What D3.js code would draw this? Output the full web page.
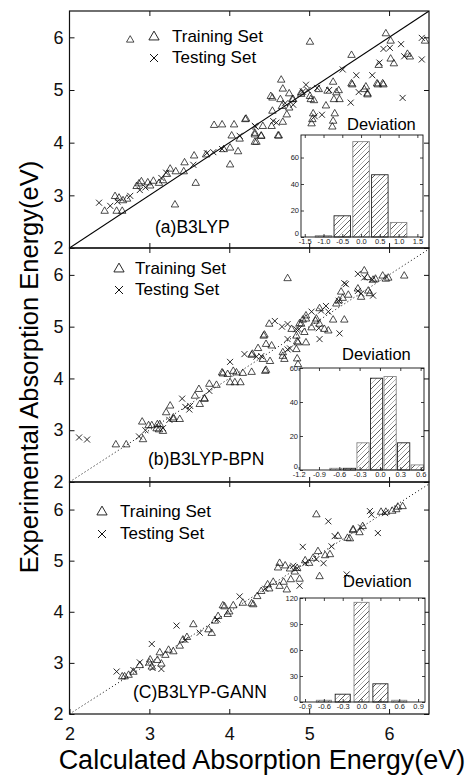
<!DOCTYPE html>
<html>
<head>
<meta charset="utf-8">
<script src="https://cdn.jsdelivr.net/npm/d3@7"></script>
<style>
  body { margin: 0; background: #fff; }
  svg text { font-family: "Liberation Sans", Arial, sans-serif; }
</style>
</head>
<body>
<div id="chart"></div>
<script>
// ---- data: [calculated, experimental] in eV ----
const trainA = [[2.44,2.70],[2.57,2.98],[2.59,2.70],[2.66,2.70],[2.67,2.90],[2.62,2.95],[2.84,3.17],[2.90,3.26],[2.87,3.22],
  [3.01,3.18],[3.12,3.23],[3.17,3.28],[3.26,3.50],[3.33,3.45],[3.22,3.40],[3.44,3.62],[3.43,3.45],[3.56,3.75],[3.58,3.23],
  [3.32,2.82],[3.71,3.77],[3.81,4.33],[3.91,4.34],[4.06,4.34],[4.20,4.44],[3.93,3.87],[4.01,3.90],[4.11,3.83],[4.01,3.58],
  [4.03,4.13],[4.13,4.07],[4.32,4.18],[4.34,4.01],[4.40,4.12],[2.76,5.95],[5.01,5.91],[5.96,6.07],[6.02,5.93],[6.02,5.59],
  [6.06,5.50],[6.23,5.68],[6.26,5.63],[6.45,5.93],[5.53,5.66],[5.87,5.47],[5.92,5.12],[5.85,5.12],[5.53,5.12],[5.71,5.06],
  [5.73,4.93],[4.65,5.19],[4.67,5.02],[4.75,4.93],[4.54,4.85],[4.64,4.82],[4.80,4.82],[4.90,4.95],[5.01,4.88],[5.02,4.82],
  [5.12,5.01],[5.06,4.80],[5.23,4.98],[5.30,5.15],[5.34,4.95],[5.37,4.99],[5.31,4.82],[5.38,4.82],[5.54,5.10],[5.69,5.01],
  [5.73,4.91],[5.86,5.10],[5.93,5.10],[5.21,4.70],[5.05,4.55],[5.04,4.44],[5.03,4.36],[5.32,4.55],[5.30,4.41],[5.29,4.30],
  [4.21,4.45],[4.32,4.15],[4.40,4.13],[4.62,4.13],[4.32,4.01],[4.53,4.31],[4.67,4.39],[4.72,4.53],[4.75,4.66],[4.66,4.69],
  [4.79,4.82],[4.52,4.88],[4.61,4.13],[4.42,4.31],[4.54,4.60],[4.90,4.92],[2.98,3.24],[3.05,3.27],[2.72,2.93]];
const testA = [[2.37,2.86],[2.51,2.80],[2.60,2.88],[2.76,2.99],[2.88,3.10],[2.95,3.15],[3.15,3.33],[3.21,3.43],[3.55,3.58],
  [3.72,3.80],[3.80,3.82],[3.91,3.88],[4.13,4.13],[6.41,5.99],[6.15,5.87],[5.93,5.78],[5.88,5.52],[6.19,5.64],[6.41,5.58],
  [5.42,5.39],[5.59,5.28],[5.79,5.28],[4.96,5.10],[4.98,5.00],[5.10,5.04],[5.25,5.00],[5.62,4.96],[6.17,4.85],[5.52,4.76],
  [5.07,4.50],[5.16,4.53],[4.55,4.41],[4.32,4.32],[4.59,4.38],[4.80,4.72],[4.33,4.30],[4.92,4.97],[4.70,4.75],[6.01,5.80]];

const trainB = [[2.58,2.72],[2.71,2.72],[2.91,3.16],[2.92,2.82],[2.99,3.09],[3.03,3.09],[3.09,3.03],[3.10,3.11],[3.13,3.11],
  [3.12,3.01],[3.17,2.98],[3.26,3.47],[3.21,3.34],[3.30,3.21],[3.30,3.24],[3.38,3.21],[3.57,3.66],[3.62,3.79],[3.63,3.50],
  [3.69,3.60],[3.75,3.89],[3.84,3.87],[3.91,4.11],[3.98,4.08],[4.05,4.14],[4.01,3.92],[4.07,3.92],[4.14,3.92],[4.17,4.10],
  [4.28,4.12],[4.28,4.45],[4.36,4.58],[4.42,4.37],[4.46,4.66],[4.44,4.84],[4.50,5.05],[4.53,4.63],[4.67,4.43],[4.69,4.37],
  [4.73,5.93],[4.78,4.95],[4.84,4.82],[4.86,4.69],[4.84,4.56],[4.85,4.38],[4.86,4.27],[4.94,4.89],[4.90,5.05],[4.96,5.15],
  [5.03,4.98],[4.96,4.69],[5.09,5.15],[5.13,5.05],[5.19,4.95],[5.24,4.92],[5.30,5.13],[5.44,5.13],[5.13,5.35],[5.42,5.55],
  [5.49,5.61],[5.40,5.67],[5.65,5.57],[5.69,6.08],[5.73,5.95],[5.83,5.92],[5.92,5.98],[5.96,5.92],[6.19,5.98],[5.74,5.69],
  [5.37,5.50],[5.34,5.44],[5.08,5.11],[4.96,5.21],[4.92,5.13],[4.88,5.06],[4.85,4.71],[4.67,4.50],[4.51,4.33],[4.46,4.16],
  [4.29,4.47],[4.09,4.11],[3.92,4.09],[5.99,5.94],[5.61,5.73],[5.76,5.64],[4.43,4.82],[3.69,3.61],[5.80,5.90],[4.45,4.14]];
const testB = [[2.12,2.86],[2.22,2.82],[2.87,2.88],[3.17,3.04],[3.41,3.61],[3.51,3.47],[3.50,3.40],[3.75,3.76],[4.01,4.32],
  [4.34,4.42],[4.57,5.11],[4.66,5.00],[4.73,4.76],[4.76,4.58],[5.15,5.31],[5.21,5.40],[5.24,5.29],[5.13,4.76],[5.38,4.87],
  [5.46,5.82],[5.37,5.50],[5.61,6.02],[5.61,5.69],[5.65,5.64],[5.80,5.60],[5.69,5.95],[5.79,5.91],[4.87,4.95],[4.19,4.47],
  [5.44,5.84],[5.03,5.29],[4.73,5.05],[4.84,4.95],[5.12,4.97],[4.73,4.56],[4.40,4.43],[3.25,3.20],[3.45,3.45],[2.95,3.00]];

const trainC = [[2.69,2.73],[2.66,2.73],[2.74,2.76],[2.80,2.82],[2.88,2.95],[3.01,3.06],[3.00,3.00],[3.13,3.20],[3.24,3.25],
  [3.03,2.92],[3.10,3.05],[3.15,2.98],[3.20,3.15],[3.30,3.22],[3.42,3.45],[3.38,3.33],[3.47,3.50],[3.55,3.75],[3.74,3.65],
  [3.78,3.58],[3.82,3.82],[3.86,3.91],[3.92,4.12],[3.94,4.10],[4.00,4.00],[4.05,4.12],[4.17,4.17],[4.28,4.16],[4.30,4.14],
  [4.40,4.40],[4.48,4.53],[4.55,4.58],[4.63,4.50],[4.72,4.43],[4.63,4.95],[4.61,4.86],[4.76,4.84],[4.88,4.64],[4.77,4.63],
  [4.85,4.85],[4.95,5.00],[5.00,4.95],[5.09,5.90],[5.13,4.69],[5.11,5.18],[5.26,5.12],[5.36,5.48],[5.48,5.44],[5.51,5.43],
  [5.55,5.61],[5.55,5.59],[5.63,5.55],[5.67,5.67],[5.90,5.95],[5.96,5.95],[6.04,5.97],[6.09,6.00],[6.11,6.05],[6.17,6.06],
  [4.68,4.58],[4.50,4.45],[4.35,4.30],[3.98,3.95],[4.70,4.90],[4.82,4.78],[5.05,5.05],[5.20,5.10]];
const testC = [[2.59,2.83],[3.03,3.37],[3.04,2.90],[2.80,2.86],[2.88,3.01],[3.34,3.73],[3.63,3.59],[4.13,4.30],[4.92,5.27],
  [5.09,5.03],[5.24,5.77],[5.47,4.73],[5.86,5.54],[5.76,5.97],[5.78,5.90],[4.88,4.51],[5.32,5.48],[5.28,5.28],[5.18,4.95],
  [4.85,4.85],[4.80,4.90],[3.45,3.45],[3.85,3.85],[4.45,4.45],[5.65,5.65],[5.95,5.93],[4.95,4.95],[3.15,2.88]];

// deviation histograms (bin centre, count)
const devBinsA = [-1.0, -0.5, 0.0, 0.5, 1.0];
const devCountsA = [1, 16, 72, 47, 11];
const devBinsB = [-0.65, -0.45, -0.25, -0.05, 0.15, 0.35, 0.55];
const devCountsB = [1, 1, 16, 54, 55, 16, 3];
const devBinsC = [-0.6, -0.3, 0.0, 0.3, 0.6];
const devCountsC = [2, 9, 115, 21, 2];

// tick values
const mainTicks = [2, 3, 4, 5, 6];
const devXTicksA = [-1.5, -1.0, -0.5, 0.0, 0.5, 1.0, 1.5];
const devYTicksA = [0, 20, 40, 60];
const devXTicksB = [-1.2, -0.9, -0.6, -0.3, 0.0, 0.3, 0.6];
const devYTicksB = [0, 20, 40, 60];
const devXTicksC = [-0.9, -0.6, -0.3, 0.0, 0.3, 0.6, 0.9];
const devYTicksC = [0, 30, 60, 90, 120];

const width = 466, height = 775;
const svg = d3.select("#chart").append("svg")
  .attr("width", width).attr("height", height);

// hatch pattern for the histogram bars
const defs = svg.append("defs");
const pat = defs.append("pattern").attr("id", "hatch")
  .attr("patternUnits", "userSpaceOnUse").attr("width", 10).attr("height", 10);
pat.append("path").attr("d", "M0,10L10,0M-1,1L1,-1M9,11L11,9")
  .attr("stroke", "#111").attr("stroke-width", 0.7);
pat.append("path").attr("d", "M0,5L5,0M5,10L10,5")
  .attr("stroke", "#999").attr("stroke-width", 0.7);

const x = d3.scaleLinear().domain([2, 6.5]).range([69.5, 429]);

const panels = [
  { train: trainA, test: testA, top: 11, bottom: 248, dotted: false, label: "(a)B3LYP",
    labelPos: [155, 233], legend: [154, 172, 42, 63],
    dev: { bins: devBinsA, counts: devCountsA, bw: 0.44, xd: [-1.6, 1.65], yd: [0, 77],
           xt: devXTicksA, yt: devYTicksA, box: [301, 423, 135, 237], title: [347, 130] } },
  { train: trainB, test: testB, top: 249, bottom: 482, dotted: true, label: "(b)B3LYP-BPN",
    labelPos: [148, 465], legend: [119, 135, 274, 295],
    dev: { bins: devBinsB, counts: devCountsB, bw: 0.18, xd: [-1.18, 0.65], yd: [0, 60],
           xt: devXTicksB, yt: devYTicksB, box: [300, 424, 368, 470], title: [342, 360] } },
  { train: trainC, test: testC, top: 484, bottom: 714, dotted: true, label: "(C)B3LYP-GANN",
    labelPos: [133, 698], legend: [102, 120, 517, 539],
    dev: { bins: devBinsC, counts: devCountsC, bw: 0.24, xd: [-0.98, 1.01], yd: [0, 120],
           xt: devXTicksC, yt: devYTicksC, box: [300, 425, 598, 702], title: [343, 587] } }
];

const triangle = d3.symbol(d3.symbolTriangle, 24);
const cross = "M-3,-3L3,3M-3,3L3,-3";

panels.forEach(function(p, i) {
  const y = d3.scaleLinear().domain([2, 6.5]).range([p.bottom, p.top]);
  const g = svg.append("g");
  const frameTop = i === 0 ? p.top : panels[i - 1].bottom;

  g.append("clipPath").attr("id", "clip" + i)
    .append("rect").attr("x", x(2)).attr("y", frameTop)
    .attr("width", x(6.5) - x(2)).attr("height", p.bottom - frameTop);

  const plot = g.append("g").attr("clip-path", "url(#clip" + i + ")");

  // y = x reference line
  plot.append("line")
    .attr("x1", x(2)).attr("y1", y(2)).attr("x2", x(6.5)).attr("y2", y(6.5))
    .attr("stroke", "#000").attr("stroke-width", p.dotted ? 1 : 1.1)
    .attr("stroke-dasharray", p.dotted ? "1,2.6" : null);

  plot.selectAll(".tri").data(p.train).enter().append("path")
    .attr("d", triangle)
    .attr("transform", d => `translate(${x(d[0])},${y(d[1])})`)
    .attr("fill", "none").attr("stroke", "#111").attr("stroke-width", 0.75);

  plot.selectAll(".cross").data(p.test).enter().append("path")
    .attr("d", cross)
    .attr("transform", d => `translate(${x(d[0])},${y(d[1])})`)
    .attr("fill", "none").attr("stroke", "#111").attr("stroke-width", 0.9);

  // axes, ticks pointing inward
  const left = g.append("g").attr("transform", `translate(${x(2)},0)`)
    .call(d3.axisLeft(y).tickValues(mainTicks).tickSize(-5).tickPadding(6).tickFormat(d3.format("d")));
  const right = g.append("g").attr("transform", `translate(${x(6.5)},0)`)
    .call(d3.axisRight(y).tickValues(mainTicks).tickSize(-5).tickFormat(""));
  const top = g.append("g").attr("transform", `translate(0,${frameTop})`)
    .call(d3.axisTop(x).tickValues(mainTicks.slice(1)).tickSize(-5).tickFormat(""));
  const bottom = g.append("g").attr("transform", `translate(0,${p.bottom})`)
    .call(d3.axisBottom(x).tickValues(i === 2 ? mainTicks : mainTicks.slice(1))
      .tickSize(-5).tickPadding(13).tickFormat(i === 2 ? d3.format("d") : ""));
  [left, right, top, bottom].forEach(a => {
    a.select(".domain").remove();
    a.selectAll("line").attr("stroke", "#111").attr("stroke-width", 1);
    a.selectAll("text").attr("font-size", 18).attr("fill", "#111")
      .style("font-family", '"Liberation Sans", Arial, sans-serif');
  });

  g.append("rect").attr("x", x(2)).attr("y", frameTop)
    .attr("width", x(6.5) - x(2)).attr("height", p.bottom - frameTop)
    .attr("fill", "none").attr("stroke", "#111").attr("stroke-width", 1.2);

  // legend
  const lg = p.legend;
  g.append("path").attr("d", d3.symbol(d3.symbolTriangle, 45))
    .attr("transform", `translate(${lg[0]},${lg[2] - 5})`)
    .attr("fill", "none").attr("stroke", "#111").attr("stroke-width", 0.9);
  g.append("text").attr("x", lg[1]).attr("y", lg[2]).attr("font-size", 17).text("Training Set");
  g.append("path").attr("d", "M-4,-4L4,4M-4,4L4,-4")
    .attr("transform", `translate(${lg[0]},${lg[3] - 5})`)
    .attr("fill", "none").attr("stroke", "#111").attr("stroke-width", 1);
  g.append("text").attr("x", lg[1]).attr("y", lg[3]).attr("font-size", 17).text("Testing Set");

  g.append("text").attr("x", p.labelPos[0]).attr("y", p.labelPos[1])
    .attr("font-size", 17.5).text(p.label);

  // deviation inset
  const d = p.dev;
  const xi = d3.scaleLinear().domain(d.xd).range([d.box[0], d.box[1]]);
  const yi = d3.scaleLinear().domain(d.yd).range([d.box[3], d.box[2]]);
  const ig = g.append("g");
  ig.append("rect").attr("x", d.box[0]).attr("y", d.box[2])
    .attr("width", d.box[1] - d.box[0]).attr("height", d.box[3] - d.box[2])
    .attr("fill", "#fff");
  ig.selectAll(".bar").data(d.bins).enter().append("rect")
    .attr("x", (c) => xi(c - d.bw / 2))
    .attr("width", (c) => xi(c + d.bw / 2) - xi(c - d.bw / 2))
    .attr("y", (c, k) => yi(d.counts[k]))
    .attr("height", (c, k) => yi(0) - yi(d.counts[k]))
    .attr("fill", "url(#hatch)")
    .attr("stroke", (c, k) => k % 2 ? "#222" : "#888").attr("stroke-width", 0.9);

  const il = ig.append("g").attr("transform", `translate(${d.box[0]},0)`)
    .call(d3.axisLeft(yi).tickValues(d.yt).tickSize(-3).tickPadding(2).tickFormat(d3.format("d")));
  const ir = ig.append("g").attr("transform", `translate(${d.box[1]},0)`)
    .call(d3.axisRight(yi).tickValues(d.yt).tickSize(-3).tickFormat(""));
  const ib = ig.append("g").attr("transform", `translate(0,${d.box[3]})`)
    .call(d3.axisBottom(xi).tickValues(d.xt).tickSize(-3).tickPadding(2)
      .tickFormat(v => v.toFixed(1)));
  const it = ig.append("g").attr("transform", `translate(0,${d.box[2]})`)
    .call(d3.axisTop(xi).tickValues(d.xt).tickSize(-3).tickFormat(""));
  [il, ir, ib, it].forEach(a => {
    a.select(".domain").remove();
    a.selectAll("line").attr("stroke", "#111").attr("stroke-width", 0.8);
    a.selectAll("text").attr("font-size", 7.5).attr("fill", "#222")
      .style("font-family", '"Liberation Sans", Arial, sans-serif');
  });
  // lift the zero label so it clears the x labels
  il.selectAll(".tick").filter(v => v === 0).select("text").attr("dy", "-0.25em");
  ig.append("rect").attr("x", d.box[0]).attr("y", d.box[2])
    .attr("width", d.box[1] - d.box[0]).attr("height", d.box[3] - d.box[2])
    .attr("fill", "none").attr("stroke", "#111").attr("stroke-width", 0.9);
  g.append("text").attr("x", d.title[0]).attr("y", d.title[1])
    .attr("font-size", 16.5).text("Deviation");
});

// axis titles
svg.append("text")
  .attr("x", 262).attr("y", 769)
  .attr("text-anchor", "middle").attr("font-size", 27)
  .text("Calculated Absorption Energy(eV)");

svg.append("text")
  .attr("transform", "translate(38,367) rotate(-90)")
  .attr("text-anchor", "middle").attr("font-size", 25.5)
  .text("Experimental Absorption Energy(eV)");
</script>
</body>
</html>
